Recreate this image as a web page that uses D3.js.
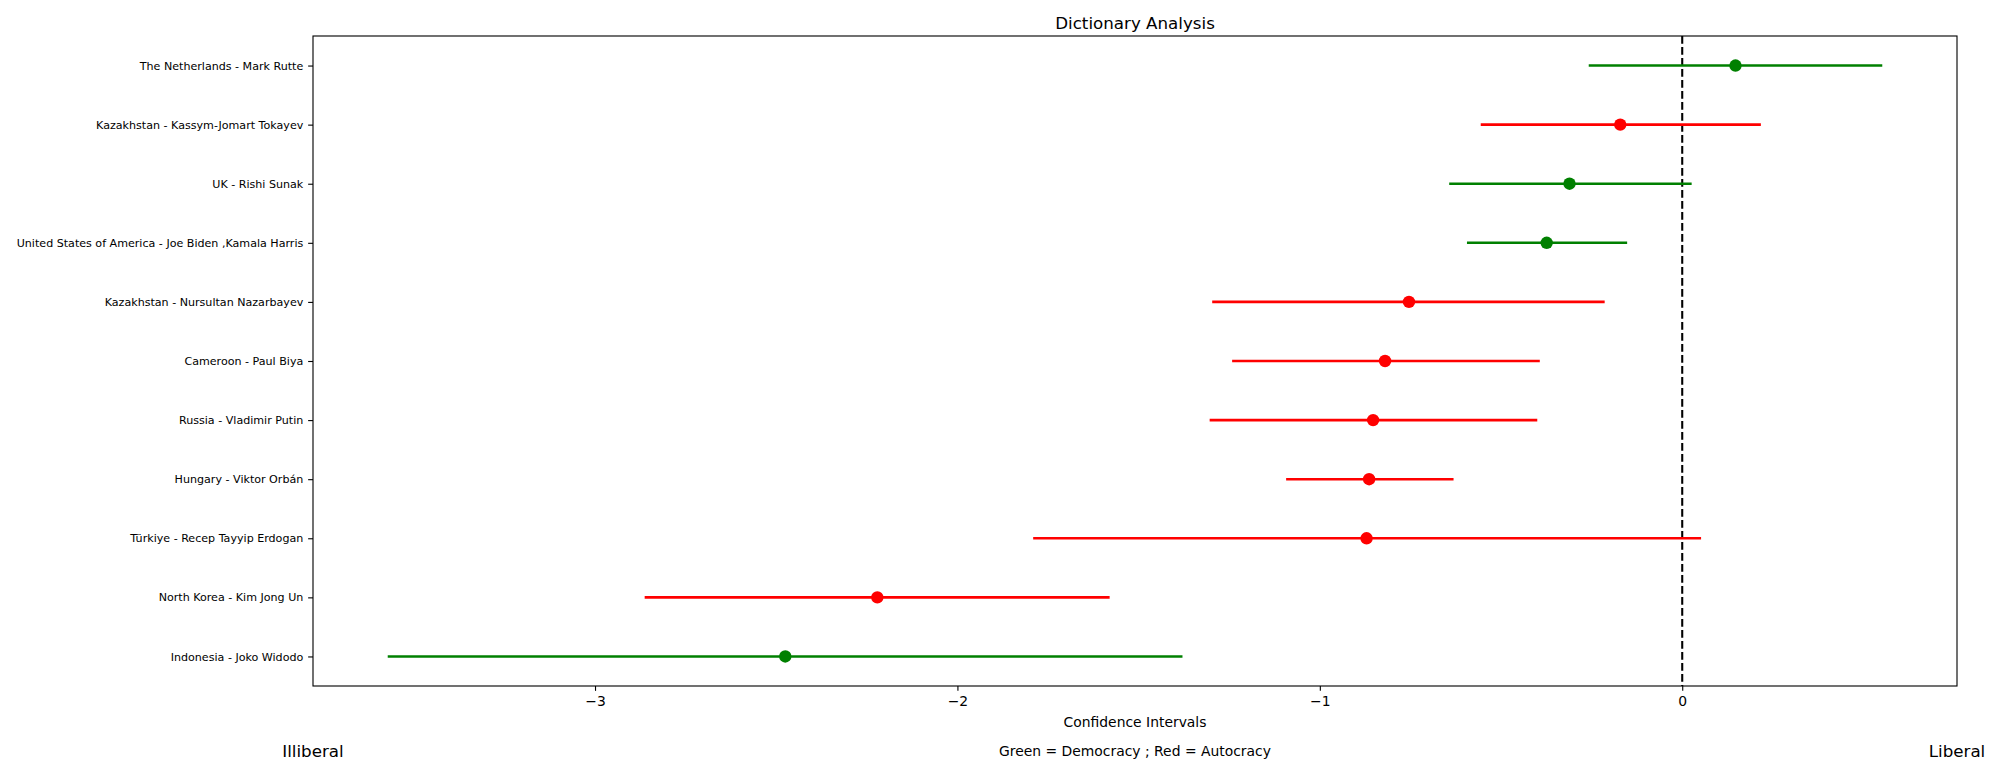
<!DOCTYPE html>
<html>
<head>
<meta charset="utf-8">
<script src="https://cdn.jsdelivr.net/npm/d3@7"></script>
<style>
  body { margin: 0; background: #fff; }
  text { font-family: "DejaVu Sans", sans-serif; fill: #000; }
</style>
</head>
<body>
<div id="chart"></div>
<script>
// leaders top to bottom, with interval and point estimate
const leaders = [
  "The Netherlands - Mark Rutte",
  "Kazakhstan - Kassym-Jomart Tokayev",
  "UK - Rishi Sunak",
  "United States of America - Joe Biden ,Kamala Harris",
  "Kazakhstan - Nursultan Nazarbayev",
  "Cameroon - Paul Biya",
  "Russia - Vladimir Putin",
  "Hungary - Viktor Orbán",
  "Türkiye - Recep Tayyip Erdogan",
  "North Korea - Kim Jong Un",
  "Indonesia - Joko Widodo"
];
const lowers = [-0.258, -0.556, -0.643, -0.594, -1.297, -1.242, -1.304, -1.093, -1.791, -2.863, -3.572];
const means  = [ 0.147, -0.171, -0.311, -0.374, -0.754, -0.820, -0.853, -0.864, -0.871, -2.221, -2.475];
const uppers = [ 0.552,  0.217,  0.026, -0.152, -0.214, -0.393, -0.400, -0.631,  0.052, -1.580, -1.379];
const regimes = ["Democracy", "Autocracy", "Democracy", "Democracy", "Autocracy", "Autocracy",
                 "Autocracy", "Autocracy", "Autocracy", "Autocracy", "Democracy"];
const xTicks = [-3, -2, -1, 0];

const W = 2000, H = 769;
const margin = {top: 36, right: 43, bottom: 83, left: 313};
const iw = W - margin.left - margin.right;
const ih = H - margin.top - margin.bottom;

const rows = leaders.map((name, i) => ({
  name, lo: lowers[i], mean: means[i], hi: uppers[i], regime: regimes[i]
}));

const color = d3.scaleOrdinal().domain(["Democracy", "Autocracy"]).range(["green", "red"]);

// matplotlib-like 5% margins
const lo = d3.min(lowers), hi = d3.max(uppers);
const pad = (hi - lo) * 0.05;
const x = d3.scaleLinear().domain([lo - pad, hi + pad]).range([0, iw]);
const y = d3.scalePoint().domain(leaders).range([0, ih]).padding(0.5);

const svg = d3.select("#chart").append("svg")
    .attr("width", W)
    .attr("height", H);

const g = svg.append("g").attr("transform", `translate(${margin.left},${margin.top})`);

// zero reference line
g.append("line")
    .attr("x1", x(0)).attr("x2", x(0))
    .attr("y1", 0).attr("y2", ih)
    .attr("stroke", "#000")
    .attr("stroke-width", 2.08)
    .attr("stroke-dasharray", "7.7,3.3");

// intervals
g.selectAll(".ci")
  .data(rows)
  .enter()
  .append("line")
    .attr("class", "ci")
    .attr("x1", d => x(d.lo))
    .attr("x2", d => x(d.hi))
    .attr("y1", d => y(d.name))
    .attr("y2", d => y(d.name))
    .attr("stroke", d => color(d.regime))
    .attr("stroke-width", 2.6);

// point estimates
g.selectAll(".pt")
  .data(rows)
  .enter()
  .append("circle")
    .attr("class", "pt")
    .attr("cx", d => x(d.mean))
    .attr("cy", d => y(d.name))
    .attr("r", 6.2)
    .attr("fill", d => color(d.regime));

// axes
const xAxis = g.append("g")
    .attr("transform", `translate(0,${ih})`)
    .call(d3.axisBottom(x).tickValues(xTicks).tickFormat(d3.format("d"))
      .tickSize(4.86).tickPadding(4.86));
xAxis.select(".domain").remove();
xAxis.selectAll("line").attr("stroke", "#000").attr("stroke-width", 1.11);
xAxis.selectAll("text").style("font-size", "13.9px").attr("fill", "#000");

const yAxis = g.append("g")
    .call(d3.axisLeft(y).tickSize(4.86).tickPadding(4.86));
yAxis.select(".domain").remove();
yAxis.selectAll("line").attr("stroke", "#000").attr("stroke-width", 1.11);
yAxis.selectAll("text").style("font-size", "11.1px").attr("fill", "#000");

// frame
g.append("rect")
    .attr("width", iw).attr("height", ih)
    .attr("fill", "none")
    .attr("stroke", "#000")
    .attr("stroke-width", 1.11);

// texts
svg.append("text")
    .attr("x", margin.left + iw / 2).attr("y", 29)
    .attr("text-anchor", "middle")
    .style("font-size", "16.7px")
    .text("Dictionary Analysis");

svg.append("text")
    .attr("x", margin.left + iw / 2).attr("y", 727)
    .attr("text-anchor", "middle")
    .style("font-size", "13.9px")
    .text("Confidence Intervals");

svg.append("text")
    .attr("x", margin.left + iw / 2).attr("y", 756)
    .attr("text-anchor", "middle")
    .style("font-size", "13.9px")
    .text("Green = Democracy ; Red = Autocracy");

svg.append("text")
    .attr("x", margin.left).attr("y", 757)
    .attr("text-anchor", "middle")
    .style("font-size", "16.7px")
    .text("Illiberal");

svg.append("text")
    .attr("x", margin.left + iw).attr("y", 757)
    .attr("text-anchor", "middle")
    .style("font-size", "16.7px")
    .text("Liberal");
</script>
</body>
</html>
